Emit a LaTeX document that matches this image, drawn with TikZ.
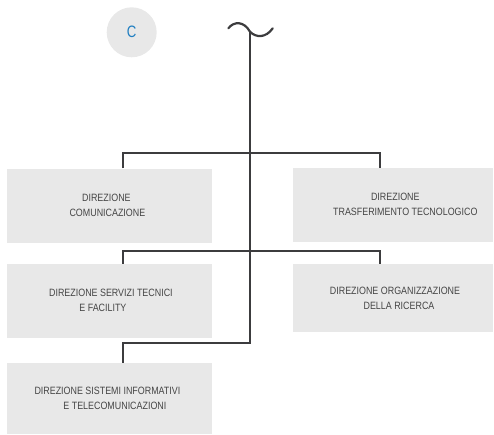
\documentclass[tikz,border=0pt]{standalone}
\usepackage{fontspec}
\setmainfont[FakeStretch=0.84]{Liberation Sans}
\newfontfamily\cfont[FakeStretch=0.8]{Liberation Sans}
\definecolor{boxgray}{HTML}{E8E8E8}
\definecolor{linegray}{HTML}{3C3C3E}
\definecolor{txtgray}{HTML}{454545}
\definecolor{cblue}{HTML}{1F7EC1}
\tikzset{
  unitbox/.style={rectangle, fill=boxgray, inner sep=0pt, align=center,
    text=txtgray, font=\fontsize{10.6}{15}\selectfont},
  conn/.style={draw=linegray, line width=2.2pt, line join=miter},
}
\begin{document}
\begin{tikzpicture}[x=1pt,y=-1pt]
\useasboundingbox (0,0) rectangle (494,434);
% badge
\node[circle, fill=boxgray, minimum size=50pt, inner sep=0pt, text=cblue,
  font=\cfont\fontsize{16.5}{16.5}\selectfont] (badge) at (131.7,32.3) {C};
% boxes
\node[unitbox, minimum width=205.3pt, minimum height=74pt] (b1) at (109.4,205.5)
  {DIREZIONE\hspace*{6pt}\\COMUNICAZIONE\hspace*{4pt}};
\node[unitbox, minimum width=200.3pt, minimum height=74pt] (b2) at (392.8,204.7)
  {\hspace*{5pt}DIREZIONE\\\hspace*{25pt}TRASFERIMENTO TECNOLOGICO};
\node[unitbox, minimum width=205.3pt, minimum height=73.7pt] (b3) at (109.4,300.8)
  {\hspace*{3pt}DIREZIONE SERVIZI TECNICI\\E FACILITY\hspace*{13pt}};
\node[unitbox, minimum width=200.3pt, minimum height=68.3pt] (b4) at (393,298.2)
  {\hspace*{4pt}DIREZIONE ORGANIZZAZIONE\\\hspace*{12pt}DELLA RICERCA};
\node[unitbox, minimum width=205.3pt, minimum height=71pt] (b5) at (109.4,398.5)
  {DIREZIONE SISTEMI INFORMATIVI\hspace*{4pt}\\\hspace*{11pt}E TELECOMUNICAZIONI};
% helper coordinates
\coordinate (top) at (250,32);
\coordinate (xl) at (123,0);
\coordinate (xr) at (380,0);
\coordinate (h1) at (0,152.7);
\coordinate (h2) at (0,251);
\coordinate (h3) at (0,343.3);
% tilde
\draw[draw=linegray, line width=2.2pt, line cap=round]
  (228.3,28.3) .. controls (234,21) and (244,21) .. (250,31.7)
  .. controls (256,38) and (266,38) .. (272.7,28.3);
% trunk
\draw[conn] (top) -- (top |- h3) -- (xl |- h3) -- (b5.north -| xl);
% level 1
\draw[conn] (b1.north -| xl) -- (xl |- h1) -- (xr |- h1) -- (b2.north -| xr);
% level 2
\draw[conn] (b3.north -| xl) -- (xl |- h2) -- (xr |- h2) -- (b4.north -| xr);
\end{tikzpicture}
\end{document}
